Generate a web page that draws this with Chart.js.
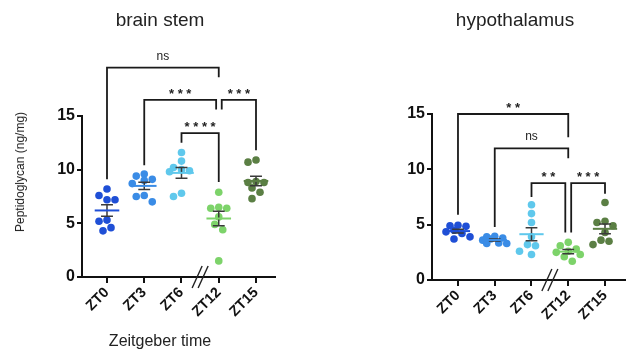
<!DOCTYPE html>
<html><head><meta charset="utf-8">
<script src="https://cdn.jsdelivr.net/npm/chart.js@4"></script>
<style>
body{margin:0;background:#fff;width:642px;height:358px;overflow:hidden;position:relative;font-family:Arial,"Liberation Sans",sans-serif;}
.box{position:absolute;top:0}
.t{position:absolute;color:#222;white-space:nowrap;transform:translate(-50%,-50%)}
</style></head><body>
<div class="box" style="left:0;width:300px;height:358px"><canvas id="c1" width="300" height="358"></canvas></div>
<div class="box" style="left:330px;width:312px;height:358px"><canvas id="c2" width="312" height="358"></canvas></div>
<div class="t" style="left:160px;top:20px;font-size:19px">brain stem</div>
<div class="t" style="left:515px;top:20px;font-size:19px">hypothalamus</div>
<div class="t" style="left:20px;top:172px;font-size:12px;transform:translate(-50%,-50%) rotate(-90deg)">Peptidoglycan (ng/mg)</div>
<div class="t" style="left:160px;top:341px;font-size:16px">Zeitgeber time</div>
<script>
// ---------- data ----------
const categories = ['ZT0', 'ZT3', 'ZT6', 'ZT12', 'ZT15'];
const yTicks = [0, 5, 10, 15];

const brainStemZT0  = [8.2, 7.6, 7.2, 7.2, 5.3, 5.2, 4.6, 4.3];
const brainStemZT3  = [9.6, 9.4, 9.1, 9.0, 8.7, 7.6, 7.5, 7.0];
const brainStemZT6  = [11.6, 10.8, 10.2, 10.0, 9.9, 9.8, 7.8, 7.5];
const brainStemZT12 = [7.9, 6.5, 6.4, 6.4, 5.6, 4.9, 4.4, 1.5];
const brainStemZT15 = [10.9, 10.7, 8.9, 8.8, 8.8, 8.3, 7.9, 7.3];

const hypoZT0  = [4.95, 4.9, 4.85, 4.5, 4.35, 4.2, 3.9, 3.7];
const hypoZT3  = [3.95, 3.9, 3.8, 3.7, 3.6, 3.35, 3.3, 3.3];
const hypoZT6  = [6.8, 6.0, 5.2, 3.9, 3.2, 3.1, 2.6, 2.3];
const hypoZT12 = [3.4, 3.1, 2.8, 2.6, 2.5, 2.3, 2.1, 1.7];
const hypoZT15 = [7.0, 5.3, 5.2, 4.9, 4.3, 3.6, 3.5, 3.2];

// significance brackets: group from / to, and their labels
const brainStemPairs  = [[0, 3], [1, 3], [2, 3], [3, 4]];
const brainStemLabels = ['ns', '***', '****', '***'];
const hypoPairs  = [[0, 3], [1, 3], [2, 3], [3, 4]];
const hypoLabels = ['**', 'ns', '**', '***'];

// ---------- layout / style ----------
const groupColors = ['#1f4fd6', '#3a8ce6', '#5fc8ec', '#7dd36a', '#5b7f44'];
// bracket geometry in value units: top height, left leg end, right leg end, end shifts
const brainStemBracketGeom = [
  {top: 19.5, leg1: 9.1, leg2: 18.6, s1: 0, s2: 0},
  {top: 16.5, leg1: 10.4, leg2: 15.6, s1: 0, s2: -0.07},
  {top: 13.4, leg1: 12.5, leg2: 8.85, s1: 0, s2: 0},
  {top: 16.5, leg1: 15.6, leg2: 11.8, s1: 0.08, s2: 0}
];
const hypoBracketGeom = [
  {top: 15.0, leg1: 5.9, leg2: 12.9, s1: 0, s2: 0},
  {top: 11.9, leg1: 4.8, leg2: 11.0, s1: 0, s2: 0},
  {top: 8.75, leg1: 7.5, leg2: 4.3, s1: 0, s2: -0.08},
  {top: 8.75, leg1: 4.3, leg2: 7.8, s1: 0.08, s2: 0}
];

// deterministic beeswarm layout (horizontal spread only, limited width)
function swarm(vals, pxX, pxY) {
  const d = 8, placed = [], out = [];
  const cand = [0, -4, 4, -8, 8, -12, 12];
  vals.forEach(v => {
    let best = 0, bestD = -1;
    for (const dx of cand) {
      const md = placed.length ? Math.min(...placed.map(p => Math.hypot(dx - p.dx, (v - p.v) * pxY))) : 1e9;
      if (md >= d) { best = dx; bestD = md; break; }
      if (md > bestD + 0.01) { bestD = md; best = dx; }
    }
    placed.push({dx: best, v});
    out.push(best / pxX);
  });
  return out;
}

function meanSem(vals) {
  const n = vals.length;
  const m = vals.reduce((a, b) => a + b, 0) / n;
  const sd = Math.sqrt(vals.reduce((a, b) => a + (b - m) * (b - m), 0) / (n - 1));
  return [m, sd / Math.sqrt(n)];
}

const annotPlugin = {
  id: 'annot',
  afterDatasetsDraw(chart, args, opts) {
    const {ctx} = chart; const x = chart.scales.x, y = chart.scales.y;
    ctx.save();
    ctx.fillStyle = '#222'; ctx.textAlign = 'center'; ctx.textBaseline = 'alphabetic';
    opts.pairs.forEach((p, i) => {
      const g = opts.geom[i];
      const cx = (x.getPixelForValue(p[0] + g.s1) + x.getPixelForValue(p[1] + g.s2)) / 2;
      const ty = y.getPixelForValue(g.top);
      const lab = opts.labels[i];
      if (lab === 'ns') { ctx.font = '12px Arial, "Liberation Sans"'; ctx.fillText('ns', cx, ty - 8); }
      else { ctx.font = 'bold 13px Arial, "Liberation Sans"'; ctx.fillText(lab.split('').join(' '), cx, ty - 2); }
    });
    const bx = x.getPixelForValue(2.5), by = y.getPixelForValue(0);
    ctx.strokeStyle = '#222'; ctx.lineWidth = 1.4;
    [-3, 3].forEach(o => { ctx.beginPath(); ctx.moveTo(bx + o - 5, by + 11); ctx.lineTo(bx + o + 5, by - 11); ctx.stroke(); });
    ctx.restore();
  }
};

function makeChart(id, groups, pairs, labels, geom, dim) {
  const pxX = (dim.right - dim.left) / (dim.xmax - dim.xmin);
  const pxY = (dim.bottom - dim.top) / 15;
  const datasets = [];
  groups.forEach((vals, i) => {
    const offs = swarm(vals, pxX, pxY);
    const [m, s] = meanSem(vals);
    datasets.push({
      data: vals.map((v, k) => ({x: i + offs[k], y: v})),
      backgroundColor: groupColors[i], borderWidth: 0, pointRadius: 3.8, order: 3
    });
    datasets.push({
      data: [{x: i - 0.33, y: m}, {x: i + 0.33, y: m}],
      showLine: true, borderColor: groupColors[i], borderWidth: 2, pointRadius: 0, order: 1
    });
    const c = 0.16;
    datasets.push({
      data: [{x: i - c, y: m + s}, {x: i + c, y: m + s}, {x: i, y: null}, {x: i, y: m + s}, {x: i, y: m - s}, {x: i, y: null}, {x: i - c, y: m - s}, {x: i + c, y: m - s}],
      showLine: true, spanGaps: false, borderColor: '#3a3a3a', borderWidth: 1.5, pointRadius: 0, order: 2
    });
  });
  pairs.forEach((p, i) => {
    const g = geom[i];
    const x1 = p[0] + g.s1, x2 = p[1] + g.s2;
    datasets.push({
      data: [{x: x1, y: g.leg1}, {x: x1, y: g.top}, {x: x2, y: g.top}, {x: x2, y: g.leg2}],
      showLine: true, borderColor: '#1a1a1a', borderWidth: 1.8, pointRadius: 0, clip: false, order: 0
    });
  });
  const cw = dim.w, ch = 358;
  return new Chart(document.getElementById(id), {
    type: 'scatter',
    data: {datasets},
    plugins: [annotPlugin],
    options: {
      responsive: false, animation: false, events: [], devicePixelRatio: 1,
      layout: {padding: {top: dim.top, right: cw - dim.right, bottom: 0, left: 0}},
      plugins: {legend: {display: false}, tooltip: {enabled: false}, title: {display: false},
        annot: {pairs, labels, geom}},
      scales: {
        x: {
          type: 'linear', min: dim.xmin, max: dim.xmax,
          afterBuildTicks: s => { s.ticks = categories.map((c, i) => ({value: i})); },
          afterFit: s => { s.height = ch - dim.bottom; },
          ticks: {autoSkip: false, minRotation: 45, maxRotation: 45, padding: 1,
            color: '#111', font: {family: 'Arial, "Liberation Sans"', weight: 'bold', size: 14.5},
            callback: v => categories[v]},
          grid: {drawOnChartArea: false, drawTicks: true, tickLength: 6, color: '#111', lineWidth: 2},
          border: {display: true, color: '#111', width: 2}
        },
        y: {
          type: 'linear', min: 0, max: 15,
          afterBuildTicks: s => { s.ticks = yTicks.map(v => ({value: v})); },
          afterFit: s => { s.width = dim.left; },
          ticks: {padding: 2, color: '#111', font: {family: 'Arial, "Liberation Sans"', weight: 'bold', size: 16}},
          grid: {drawOnChartArea: false, drawTicks: true, tickLength: 5, color: '#111', lineWidth: 2},
          border: {display: true, color: '#111', width: 2}
        }
      }
    }
  });
}

makeChart('c1', [brainStemZT0, brainStemZT3, brainStemZT6, brainStemZT12, brainStemZT15],
  brainStemPairs, brainStemLabels, brainStemBracketGeom,
  {w: 300, left: 82, right: 275, top: 116, bottom: 277, xmin: -0.671, xmax: 4.51});
makeChart('c2', [hypoZT0, hypoZT3, hypoZT6, hypoZT12, hypoZT15],
  hypoPairs, hypoLabels, hypoBracketGeom,
  {w: 312, left: 102, right: 295, top: 114, bottom: 280, xmin: -0.707, xmax: 4.544});
</script>
</body></html>
